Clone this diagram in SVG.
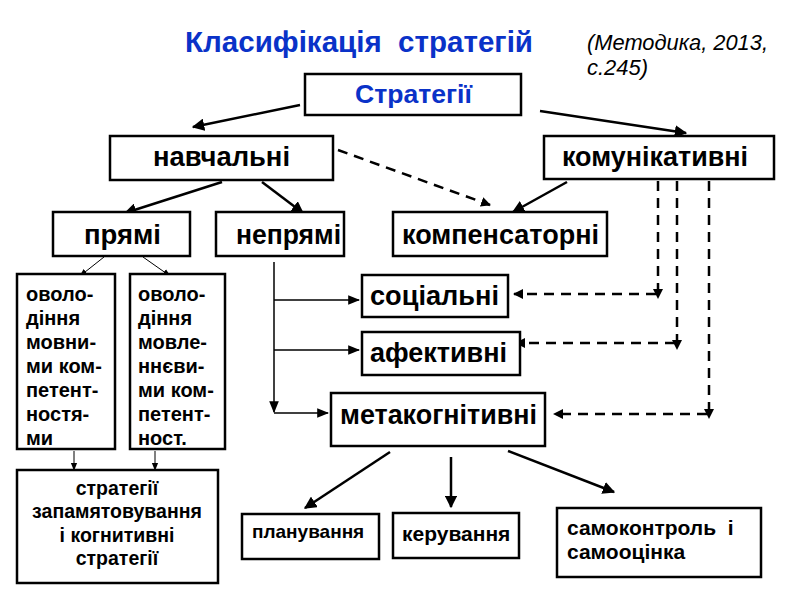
<svg xmlns="http://www.w3.org/2000/svg" width="800" height="600" viewBox="0 0 800 600">
<style>
.box{fill:#fff;stroke:#000;stroke-width:2.5}
.t{font-family:"Liberation Sans",Arial,sans-serif;font-weight:bold;fill:#000}
.b{fill:#0a32c8}
.c{text-anchor:middle}
.a{stroke:#000;stroke-width:2.5;fill:none}
.th{stroke:#000;stroke-width:1;fill:none}
.m{stroke:#000;stroke-width:1.5;fill:none}
.d{stroke:#000;stroke-width:2.5;fill:none;stroke-dasharray:10 7}
</style>
<defs>
<marker id="ah" viewBox="0 0 10 10" refX="9" refY="5" markerWidth="5" markerHeight="5" markerUnits="strokeWidth" orient="auto"><path d="M0,0L10,5L0,10z" fill="#000"/></marker>
<marker id="ahs" viewBox="0 0 10 10" refX="9" refY="5" markerWidth="8" markerHeight="8" markerUnits="strokeWidth" orient="auto"><path d="M0,1L10,5L0,9z" fill="#000"/></marker>
<marker id="ahd" viewBox="0 0 10 10" refX="9" refY="5" markerWidth="4" markerHeight="4" markerUnits="strokeWidth" orient="auto"><path d="M0,0L10,5L0,10z" fill="#000"/></marker>
</defs>
<rect width="800" height="600" fill="#fff"/>
<text x="185" y="52" class="t b" font-size="30" xml:space="preserve" textLength="348" lengthAdjust="spacingAndGlyphs">Класифікація  стратегій</text>
<text x="587" y="50" font-family="Liberation Sans,Arial,sans-serif" font-style="italic" font-size="22" fill="#000" textLength="181" lengthAdjust="spacingAndGlyphs">(Методика, 2013,</text>
<text x="587" y="75" font-family="Liberation Sans,Arial,sans-serif" font-style="italic" font-size="22" fill="#000">с.245)</text>

<g id="connectors">
<line class="a" x1="300" y1="105" x2="193" y2="127" marker-end="url(#ah)"/>
<line class="a" x1="540" y1="111" x2="686" y2="133" marker-end="url(#ah)"/>
<line class="a" x1="222" y1="182" x2="125" y2="213" marker-end="url(#ah)"/>
<line class="a" x1="262" y1="182" x2="303" y2="213" marker-end="url(#ah)"/>
<line class="d" x1="338" y1="150" x2="490" y2="205" marker-end="url(#ahd)"/>
<line class="a" x1="567" y1="182" x2="513" y2="212" marker-end="url(#ah)"/>
<line class="th" x1="104" y1="257" x2="80" y2="276" marker-end="url(#ahs)"/>
<line class="th" x1="143" y1="257" x2="170" y2="276" marker-end="url(#ahs)"/>
<line class="th" x1="74" y1="451" x2="74" y2="470" marker-end="url(#ahs)"/>
<line class="th" x1="155" y1="451" x2="155" y2="470" marker-end="url(#ahs)"/>
<line class="m" x1="274" y1="262" x2="274" y2="412" marker-end="url(#ahs)"/>
<line class="m" x1="274" y1="300" x2="359" y2="300" marker-end="url(#ahs)"/>
<line class="m" x1="274" y1="350" x2="359" y2="350" marker-end="url(#ahs)"/>
<line class="m" x1="274" y1="413" x2="328" y2="413" marker-end="url(#ahs)"/>
<line class="d" x1="658" y1="181" x2="658" y2="298" marker-end="url(#ahd)"/>
<line class="d" x1="677" y1="181" x2="677" y2="349" marker-end="url(#ahd)"/>
<line class="d" x1="709" y1="181" x2="709" y2="418" marker-end="url(#ahd)"/>
<line class="d" x1="656" y1="294" x2="514" y2="294" marker-end="url(#ahd)"/>
<line class="d" x1="675" y1="343" x2="516" y2="343" marker-end="url(#ahd)"/>
<line class="d" x1="707" y1="414" x2="554" y2="414" marker-end="url(#ahd)"/>
<line class="a" x1="390" y1="452" x2="305" y2="508" marker-end="url(#ah)"/>
<line class="a" x1="451" y1="457" x2="451" y2="507" marker-end="url(#ah)"/>
<line class="a" x1="508" y1="451" x2="614" y2="492" marker-end="url(#ah)"/>
</g>

<g id="strategii"><rect class="box" x="305" y="74" width="216" height="41"/><text x="355" y="103" class="t b" font-size="26" textLength="117" lengthAdjust="spacingAndGlyphs">Стратегії</text></g>
<g id="navchalni"><rect class="box" x="110" y="136" width="223" height="44"/><text x="153" y="166" class="t" font-size="27" textLength="137" lengthAdjust="spacingAndGlyphs">навчальні</text></g>
<g id="komunikatyvni"><rect class="box" x="544" y="136" width="230" height="43"/><text x="562" y="166" class="t" font-size="27" textLength="186" lengthAdjust="spacingAndGlyphs">комунікативні</text></g>
<g id="priami"><rect class="box" x="53" y="212" width="137" height="44"/><text x="84" y="244" class="t" font-size="27" textLength="77" lengthAdjust="spacingAndGlyphs">прямі</text></g>
<g id="nepriami"><rect class="box" x="216" y="212" width="128" height="44"/><text x="236" y="244" class="t" font-size="27" textLength="105" lengthAdjust="spacingAndGlyphs">непрямі</text></g>
<g id="kompensatorni"><rect class="box" x="393" y="212" width="214" height="44"/><text x="402" y="244" class="t" font-size="27" textLength="197" lengthAdjust="spacingAndGlyphs">компенсаторні</text></g>
<g id="sotsialni"><rect class="box" x="362" y="275" width="146" height="42"/><text x="370" y="305" class="t" font-size="27" textLength="129" lengthAdjust="spacingAndGlyphs">соціальні</text></g>
<g id="afektyvni"><rect class="box" x="362" y="332" width="158" height="43"/><text x="370" y="362" class="t" font-size="27" textLength="137" lengthAdjust="spacingAndGlyphs">афективні</text></g>
<g id="metakognityvni"><rect class="box" x="331" y="393" width="214" height="53"/><text x="340" y="424" class="t" font-size="27" textLength="197" lengthAdjust="spacingAndGlyphs">метакогнітивні</text></g>
<g id="ovolodinnia1"><rect class="box" x="17" y="274" width="98" height="175"/>
<text class="t" font-size="20"><tspan x="26" y="301">оволо-</tspan><tspan x="26" y="325">діння</tspan><tspan x="26" y="349">мовни-</tspan><tspan x="26" y="373">ми ком-</tspan><tspan x="26" y="397">петент-</tspan><tspan x="26" y="421">ностя-</tspan><tspan x="26" y="445">ми</tspan></text></g>
<g id="ovolodinnia2"><rect class="box" x="130" y="274" width="95" height="175"/>
<text class="t" font-size="20"><tspan x="138" y="301">оволо-</tspan><tspan x="138" y="325">діння</tspan><tspan x="138" y="349">мовле-</tspan><tspan x="138" y="373">ннєви-</tspan><tspan x="138" y="397">ми ком-</tspan><tspan x="138" y="421">петент-</tspan><tspan x="138" y="445">ност.</tspan></text></g>
<g id="stratehii-zap"><rect class="box" x="17" y="470" width="201" height="113"/>
<text class="t c" font-size="19.5"><tspan x="117" y="495">стратегії</tspan><tspan x="117" y="518">запамятовування</tspan><tspan x="117" y="542">і когнитивні</tspan><tspan x="117" y="565">стратегії</tspan></text></g>
<g id="planuvannia"><rect class="box" x="242" y="514" width="137" height="45"/><text x="252" y="538" class="t" font-size="19">планування</text></g>
<g id="keruvannia"><rect class="box" x="393" y="513" width="126" height="45"/><text x="402" y="541" class="t" font-size="21">керування</text></g>
<g id="samokontrol"><rect class="box" x="557" y="508" width="204" height="69"/>
<text class="t" font-size="21" xml:space="preserve"><tspan x="567" y="535">самоконтроль  і</tspan><tspan x="567" y="559">самооцінка</tspan></text></g>
</svg>
